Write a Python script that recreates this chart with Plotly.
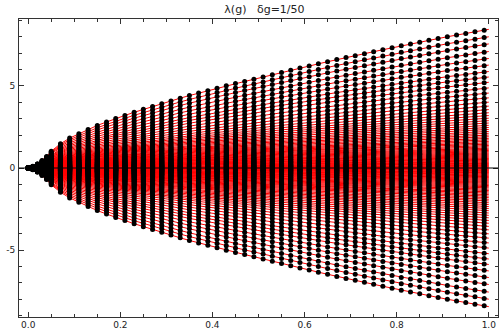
import numpy as np
import plotly.graph_objects as go

# g columns where eigenvalues were computed (dense start, then every 1/50)
g_cols = [0.0, 0.01, 0.02, 0.03, 0.04, 0.05,
          0.07, 0.09, 0.11, 0.13, 0.15, 0.17, 0.19, 0.21, 0.23, 0.25,
          0.27, 0.29, 0.31, 0.33, 0.35, 0.37, 0.39, 0.41, 0.43, 0.45,
          0.47, 0.49, 0.51, 0.53, 0.55, 0.57, 0.59, 0.61, 0.63, 0.65,
          0.67, 0.69, 0.71, 0.73, 0.75, 0.77, 0.79, 0.81, 0.83, 0.85,
          0.87, 0.89, 0.91, 0.93, 0.95, 0.97, 0.99]

# largest eigenvalue at each column
top_lam = [0.0, 0.10, 0.25, 0.45, 0.70, 1.02,
           1.47, 1.82, 2.08, 2.35, 2.59, 2.80, 3.02, 3.20, 3.39, 3.57,
           3.74, 3.91, 4.08, 4.25, 4.41, 4.56, 4.71, 4.86, 5.00, 5.14,
           5.27, 5.40, 5.54, 5.68, 5.82, 5.95, 6.08, 6.21, 6.34, 6.47,
           6.60, 6.72, 6.84, 6.96, 7.08, 7.20, 7.32, 7.44, 7.55, 7.66,
           7.77, 7.88, 7.99, 8.09, 8.19, 8.29, 8.39]

# lines run on to g = 1
g_end = 1.0
top_end = 8.44

# positive eigenvalues at g = 0.99 (spectrum is symmetric about 0)
lam_ref = [8.38, 7.93, 7.50, 7.04, 6.62, 6.22, 5.83, 5.50, 5.18, 4.84,
           4.53, 4.24, 3.98, 3.74, 3.53, 3.34, 3.17, 3.01, 2.86, 2.72,
           2.58, 2.45, 2.33, 2.21, 2.10, 1.99, 1.89, 1.79, 1.70, 1.61,
           1.52, 1.44, 1.36, 1.28, 1.20, 1.13, 1.06, 0.99, 0.92, 0.86,
           0.80, 0.74, 0.68, 0.62, 0.57, 0.52, 0.47, 0.42, 0.37, 0.32,
           0.28, 0.24, 0.20, 0.16, 0.12, 0.08, 0.04]

lam_ref = np.array(lam_ref)
levels = np.concatenate([lam_ref, -lam_ref]) / lam_ref[0]

g_line = np.array(g_cols + [g_end])
top_line = np.array(top_lam + [top_end])

fig = go.Figure()

# red branches
lx, ly = [], []
for u in levels:
    lx += list(g_line) + [None]
    ly += list(u * top_line) + [None]
fig.add_trace(go.Scatter(x=lx, y=ly, mode='lines',
                         line=dict(color='#ff0000', width=1),
                         hoverinfo='skip', showlegend=False))

# black points
px_, py_ = [], []
for g, t in zip(g_cols, top_lam):
    px_ += [g] * len(levels)
    py_ += list(levels * t)
fig.add_trace(go.Scatter(x=px_, y=py_, mode='markers',
                         marker=dict(color='black', size=5, line=dict(width=0)),
                         hoverinfo='skip', showlegend=False))

# axis at zero, drawn over the data like Mathematica
fig.add_hline(y=0, line_color='black', line_width=1, layer='above')

fnt = dict(family='DejaVu Sans', size=9, color='#222222')

fig.update_layout(
    width=499, height=335,
    margin=dict(l=19, r=1, t=19, b=18),
    paper_bgcolor='white', plot_bgcolor='white',
    title=dict(text='λ(g)   δg=1/50', x=0.53, xanchor='center',
               y=0.985, yanchor='top',
               font=dict(family='DejaVu Sans', size=11, color='#222222')),
    xaxis=dict(range=[-0.02, 1.02], showgrid=False, zeroline=False,
               automargin=False,
               showline=True, linecolor='#333333', linewidth=1, mirror='allticks',
               ticks='inside', ticklen=5, tickcolor='#333333',
               tickvals=[0, 0.2, 0.4, 0.6, 0.8, 1.0],
               ticktext=['0.0', '0.2', '0.4', '0.6', '0.8', '1.0'],
               tickfont=fnt, ticklabelstandoff=-1,
               minor=dict(ticks='inside', ticklen=3, dtick=0.05, tick0=0,
                          tickcolor='#333333', showgrid=False)),
    yaxis=dict(range=[-9.07, 9.07], showgrid=False, zeroline=False,
               automargin=False,
               showline=True, linecolor='#333333', linewidth=1, mirror='allticks',
               ticks='inside', ticklen=5, tickcolor='#333333',
               tickvals=[-5, 0, 5], ticktext=['-5', '0', '5'],
               tickfont=fnt, ticklabelstandoff=1,
               minor=dict(ticks='inside', ticklen=3, dtick=1, tick0=0,
                          tickcolor='#333333', showgrid=False)),
)

# page body has a default margin; drop it so the figure sits at 0,0
fig.write_html("out.html", config={'displayModeBar': False},
               post_script="document.body.style.margin='0px';")
